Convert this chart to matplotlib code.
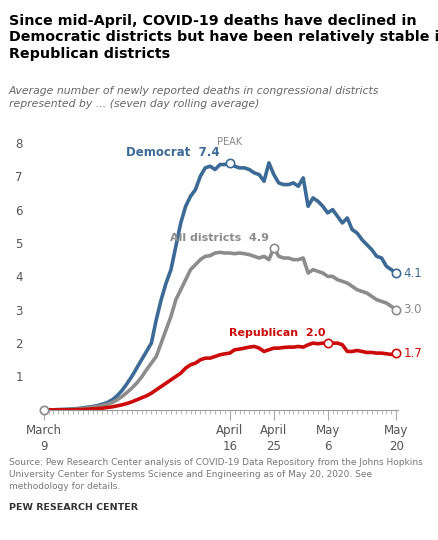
import matplotlib
matplotlib.use("Agg")
import matplotlib.pyplot as plt

days = list(range(73))  # March 9 (0) .. May 20 (72)
democrat = [0,0,0,0.01,0.01,0.02,0.03,0.04,0.06,0.08,0.1,0.13,0.17,0.22,0.3,0.42,0.58,0.78,1.0,1.25,1.5,1.75,2.0,2.7,3.3,3.8,4.2,4.9,5.6,6.1,6.4,6.6,7.0,7.25,7.3,7.2,7.35,7.35,7.4,
            7.3,7.25,7.25,7.2,7.1,7.05,6.85,7.4,7.05,6.8,6.75,6.75,6.8,6.7,6.95,6.1,6.35,6.25,6.1,5.9,6.0,5.8,5.6,5.75,5.4,5.3,5.1,4.95,4.8,4.6,4.55,4.3,4.2,4.1]
alld = [0,0,0,0,0.01,0.01,0.02,0.03,0.04,0.06,0.08,0.1,0.13,0.17,0.22,0.3,0.4,0.52,0.65,0.8,0.98,1.2,1.4,1.6,2.0,2.4,2.8,3.3,3.6,3.9,4.2,4.35,4.5,4.6,4.62,4.7,4.72,4.7,4.7,
        4.68,4.7,4.68,4.65,4.6,4.55,4.6,4.5,4.85,4.6,4.55,4.55,4.5,4.5,4.55,4.1,4.2,4.15,4.1,4.0,4.0,3.9,3.85,3.8,3.7,3.6,3.55,3.5,3.4,3.3,3.25,3.2,3.1,3.0]
republican = [0,0,0,0,0,0,0,0.01,0.01,0.02,0.03,0.04,0.05,0.07,0.09,0.12,0.15,0.19,0.24,0.3,0.36,0.42,0.5,0.6,0.7,0.8,0.9,1.0,1.1,1.25,1.35,1.4,1.5,1.55,1.55,1.6,1.65,1.68,1.7,
              1.8,1.82,1.85,1.88,1.9,1.85,1.75,1.8,1.85,1.85,1.87,1.88,1.88,1.9,1.88,1.95,2.0,1.98,2.0,2.0,2.0,2.0,1.95,1.75,1.75,1.78,1.75,1.72,1.72,1.7,1.7,1.68,1.66,1.7]

blue, grey, red = "#3c6a96", "#8c8c8c", "#cc0a0a"

fig = plt.figure(figsize=(4.39, 5.40), dpi=100)
ax = fig.add_axes([0.096, 0.241, 0.81, 0.513])
ax.plot(days, democrat, color=blue, lw=2.6, solid_joinstyle="round")
ax.plot(days, alld, color=grey, lw=2.6)
ax.plot(days, republican, color=red, lw=2.6)
ax.set_xlim(-0.3, 72.3)
ax.set_ylim(0, 8.3)
for s in ax.spines.values():
    s.set_visible(False)
ax.spines["bottom"].set_visible(True)
ax.spines["bottom"].set_color("#999999")
ax.set_yticks(range(1, 9))
ax.set_yticklabels([str(i) for i in range(1, 9)], fontsize=8.5, color="#555555")
ax.tick_params(axis="y", length=0, pad=14)
ax.set_xticks(days, minor=True)
ax.tick_params(axis="x", which="minor", length=3, color="#aaaaaa")
ax.set_xticks([0, 38, 47, 58, 72])
ax.set_xticklabels(["March\n9", "April\n16", "April\n25", "May\n6", "May\n20"], fontsize=8.5, color="#555555", linespacing=1.3)
ax.tick_params(axis="x", which="major", length=7, color="#aaaaaa", pad=3)

def mk(x, y, c):
    ax.plot([x], [y], "o", ms=6, mfc="white", mec=c, mew=1.2, zorder=5, clip_on=False)
mk(0, 0, grey)
mk(38, 7.4, blue); mk(72, democrat[-1], blue)
mk(47, 4.85, grey); mk(72, alld[-1], grey)
mk(58, 2.0, red); mk(72, republican[-1], red)
ax.text(38, 7.95, "PEAK", ha="center", fontsize=7, color="#888888")
ax.text(36, 7.6, "Democrat  7.4", ha="right", fontsize=8.5, color=blue, fontweight="bold")
ax.text(46, 5.05, "All districts  4.9", ha="right", fontsize=8, color=grey, fontweight="bold")
ax.text(57.5, 2.2, "Republican  2.0", ha="right", fontsize=8, color=red, fontweight="bold")
ax.text(73.5, democrat[-1], "4.1", va="center", fontsize=8.5, color=blue)
ax.text(73.5, alld[-1], "3.0", va="center", fontsize=8.5, color=grey)
ax.text(73.5, republican[-1], "1.7", va="center", fontsize=8.5, color=red)

fig.text(0.02, 0.975, "Since mid-April, COVID-19 deaths have declined in\nDemocratic districts but have been relatively stable in\nRepublican districts",
         va="top", fontsize=10.3, fontweight="bold", linespacing=1.25)
fig.text(0.02, 0.84, "Average number of newly reported deaths in congressional districts\nrepresented by ... (seven day rolling average)",
         va="top", fontsize=7.8, style="italic", color="#666666", linespacing=1.3)
fig.text(0.02, 0.152, "Source: Pew Research Center analysis of COVID-19 Data Repository from the Johns Hopkins\nUniversity Center for Systems Science and Engineering as of May 20, 2020. See\nmethodology for details.",
         va="top", fontsize=6.5, color="#777777", linespacing=1.4)
fig.text(0.02, 0.068, "PEW RESEARCH CENTER", va="top", fontsize=6.8, fontweight="bold", color="#333333")
fig.savefig("out.png", dpi=100)
